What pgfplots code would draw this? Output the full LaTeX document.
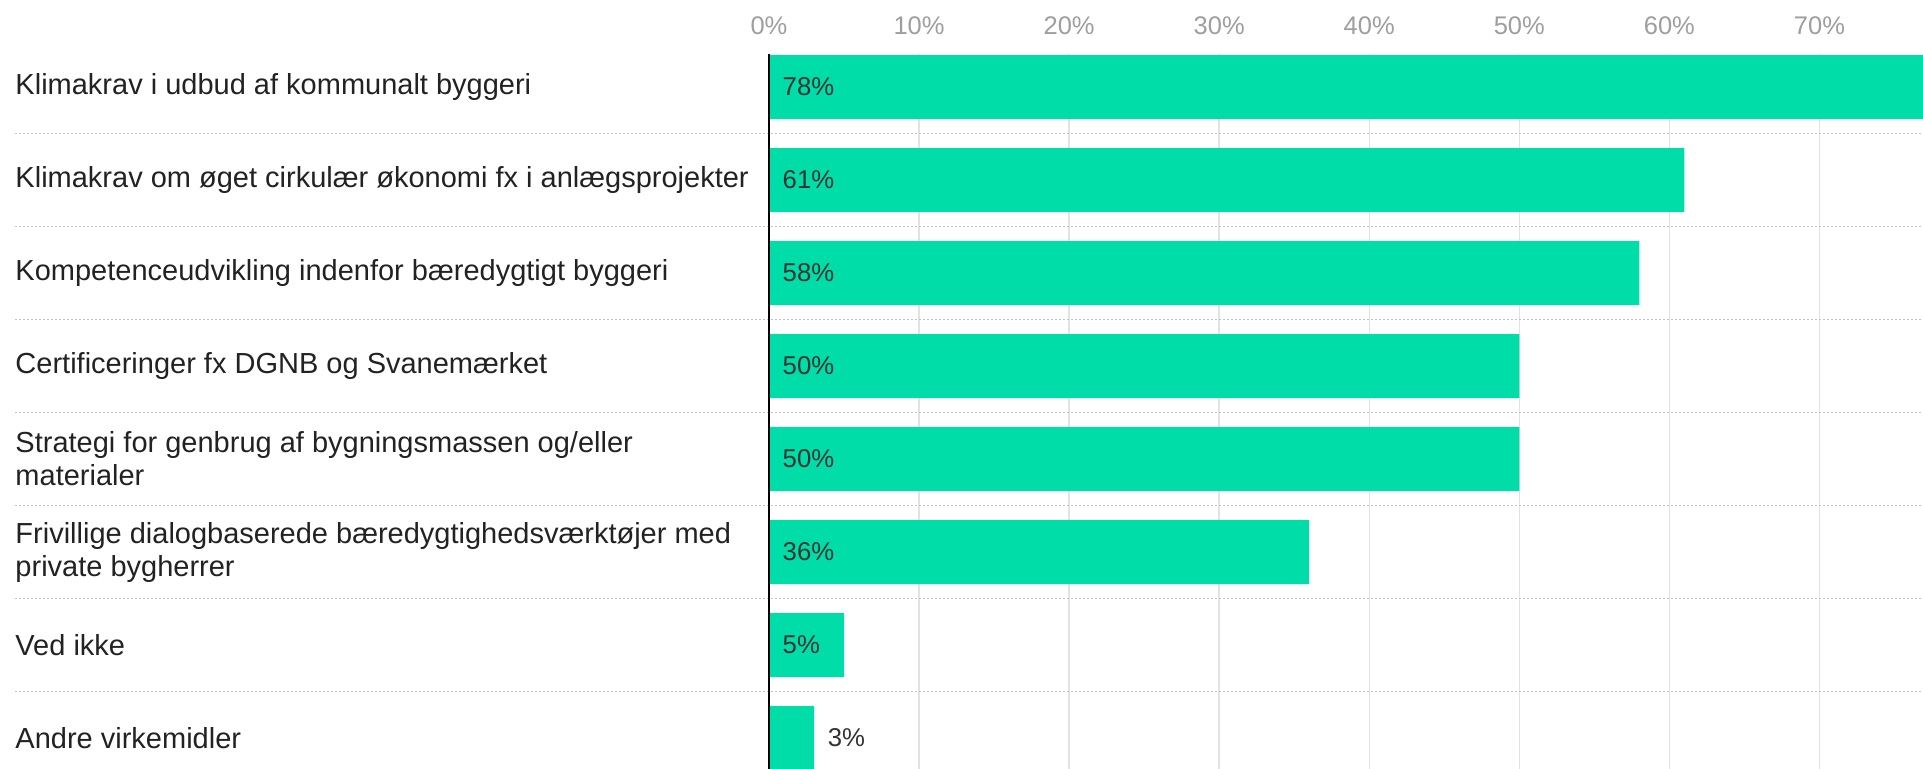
\documentclass[border=0pt]{standalone}
\usepackage{fontspec}
\setmainfont{Liberation Sans}
\usepackage{pgfplots}
\pgfplotsset{compat=1.18}

\definecolor{barc}{HTML}{00DDA8}
\definecolor{tickc}{HTML}{9E9E9E}
\definecolor{txtc}{HTML}{222222}
\definecolor{valc}{HTML}{333333}
\definecolor{gridc}{HTML}{E2E2E2}
\definecolor{sepc}{HTML}{C2C2C2}

\begin{document}
\begin{tikzpicture}
\begin{axis}[
    width=461.6pt, height=286pt, scale only axis,
    xmin=0, xmax=76.9,
    ymin=-0.355, ymax=7.333, y dir=reverse,
    axis line style={draw=none},
    major tick length=0pt,
    xtick={0,10,...,70},
    xticklabel pos=upper,
    xticklabel={\pgfmathprintnumber[assume math mode=true]{\tick}\%},
    xticklabel style={text=tickc, font=\fontsize{10.2}{12}\selectfont, yshift=4.3pt},
    xmajorgrids,
    grid style={gridc, line width=0.6pt},
    ytick={0,...,7},
    yticklabels={
        Klimakrav i udbud af kommunalt byggeri,
        Klimakrav om øget cirkulær økonomi fx i anlægsprojekter,
        Kompetenceudvikling indenfor bæredygtigt byggeri,
        Certificeringer fx DGNB og Svanemærket,
        {Strategi for genbrug af bygningsmassen og/eller\\materialer},
        {Frivillige dialogbaserede bæredygtighedsværktøjer med\\private bygherrer},
        Ved ikke,
        Andre virkemidler},
    yticklabel style={anchor=west, xshift=-301.6pt, align=left, inner sep=0pt,
        text=txtc, font=\fontsize{11.6}{13.2}\selectfont},
]
\addplot[xbar, bar width=25.6pt, fill=barc, draw=none] coordinates {
    (78,0) (61,1) (58,2) (50,3) (50,4) (36,5) (5,6) (3,7)
};
\addplot[draw=none, mark=none, nodes near coords, point meta=explicit symbolic,
    nodes near coords style={anchor=west, xshift=5.3pt, inner sep=0pt,
        text=valc, font=\fontsize{10.3}{12}\selectfont}] coordinates {
    (0,0) [78\%] (0,1) [61\%] (0,2) [58\%] (0,3) [50\%]
    (0,4) [50\%] (0,5) [36\%] (0,6) [5\%] (3,7) [3\%]
};
\coordinate (s1) at (axis cs:0,0.5);
\coordinate (s2) at (axis cs:0,1.5);
\coordinate (s3) at (axis cs:0,2.5);
\coordinate (s4) at (axis cs:0,3.5);
\coordinate (s5) at (axis cs:0,4.5);
\coordinate (s6) at (axis cs:0,5.5);
\coordinate (s7) at (axis cs:0,6.5);
\end{axis}
\foreach \k in {1,...,7}
    \draw[sepc, line width=0.6pt, dash pattern=on 0.8pt off 0.8pt]
        ([xshift=-301.6pt]s\k) -- (s\k -| current axis.east);
\draw[black, line width=0.8pt] (current axis.north west) -- (current axis.south west);
\pgfresetboundingbox
\path ([xshift=-307.6pt]current axis.south west) rectangle ([yshift=21.6pt]current axis.north east);
\end{tikzpicture}
\end{document}
